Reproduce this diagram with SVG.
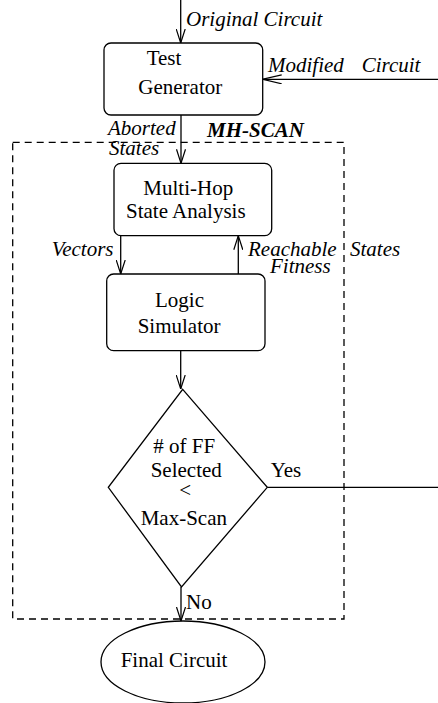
<svg xmlns="http://www.w3.org/2000/svg" width="438" height="703" viewBox="0 0 438 703">
<style>
.n{fill:#fff;stroke:#000;stroke-width:1.3}
.t,.i,.b{font-family:'Liberation Serif','Times New Roman',Times,'DejaVu Serif',serif;font-size:21px;fill:#000}
.i{font-style:italic}
.b{font-style:italic;font-weight:bold}
.c{fill:none;stroke:#000;stroke-width:1.3}
.d{fill:none;stroke:#000;stroke-width:1.3;stroke-dasharray:7 5}
</style>
<defs>
<marker id="a" viewBox="0 0 14 10" refX="14" refY="5" markerWidth="14" markerHeight="10" markerUnits="userSpaceOnUse" orient="auto">
<path d="M0,0.5 L14,5 L0,9.5" fill="none" stroke="#000" stroke-width="1.2"/>
</marker>
<marker id="h" viewBox="0 0 19 10" refX="19" refY="5" markerWidth="19" markerHeight="10" markerUnits="userSpaceOnUse" orient="auto">
<path d="M0,0.5 L19,5 L0,9.5" fill="none" stroke="#000" stroke-width="1.2"/>
</marker>
</defs>
<g id="mhscan">
<rect class="d" x="12.7" y="142.3" width="331.3" height="476.7"/>
<text class="b" x="207" y="137">MH-SCAN</text>
</g>
<g id="connectors">
<line class="c" x1="180.7" y1="0" x2="180.7" y2="43" marker-end="url(#a)"/>
<line class="c" x1="438" y1="79.3" x2="262.7" y2="79.3" marker-end="url(#h)"/>
<line class="c" x1="181" y1="115" x2="181" y2="163.3" marker-end="url(#a)"/>
<line class="c" x1="120.7" y1="235.7" x2="120.7" y2="274" marker-end="url(#a)"/>
<line class="c" x1="238.3" y1="274" x2="238.3" y2="235.7" marker-end="url(#a)"/>
<line class="c" x1="180.7" y1="350.7" x2="180.7" y2="389" marker-end="url(#a)"/>
<line class="c" x1="267.3" y1="487.3" x2="438" y2="487.3"/>
<line class="c" x1="181" y1="587" x2="181" y2="621" marker-end="url(#a)"/>
<text class="i" x="186" y="26">Original Circuit</text>
<text class="i" x="268" y="72">Modified</text>
<text class="i" x="361.7" y="72">Circuit</text>
<text class="i" x="108" y="135">Aborted</text>
<text class="i" x="109" y="155">States</text>
<text class="i" x="51.7" y="256">Vectors</text>
<text class="i" x="248" y="256">Reachable</text>
<text class="i" x="350" y="256">States</text>
<text class="i" x="270" y="273">Fitness</text>
<text class="t" x="270.7" y="477">Yes</text>
<text class="t" x="186" y="609">No</text>
</g>
<g id="test-generator">
<rect class="n" x="104" y="43" width="158.7" height="72" rx="7"/>
<text class="t" x="146.7" y="65">Test</text>
<text class="t" x="138.3" y="94">Generator</text>
</g>
<g id="multi-hop">
<rect class="n" x="114" y="163.3" width="157.7" height="72.4" rx="7"/>
<text class="t" x="143.3" y="195">Multi-Hop</text>
<text class="t" x="126" y="218.3">State Analysis</text>
</g>
<g id="logic-simulator">
<rect class="n" x="106.7" y="274" width="158.3" height="76.7" rx="7"/>
<text class="t" x="155" y="306.5">Logic</text>
<text class="t" x="137.7" y="333.3">Simulator</text>
</g>
<g id="decision">
<polygon class="n" points="182.7,389.3 267.3,487.3 181.5,587 108.3,487.3"/>
<text class="t" x="153.3" y="453.3"># of FF</text>
<text class="t" x="150.7" y="477.3">Selected</text>
<text class="t" x="179.3" y="497">&lt;</text>
<text class="t" x="140.7" y="525">Max-Scan</text>
</g>
<g id="final-circuit">
<ellipse class="n" cx="183" cy="662" rx="82" ry="41"/>
<text class="t" x="120.7" y="667.3">Final Circuit</text>
</g>
</svg>
